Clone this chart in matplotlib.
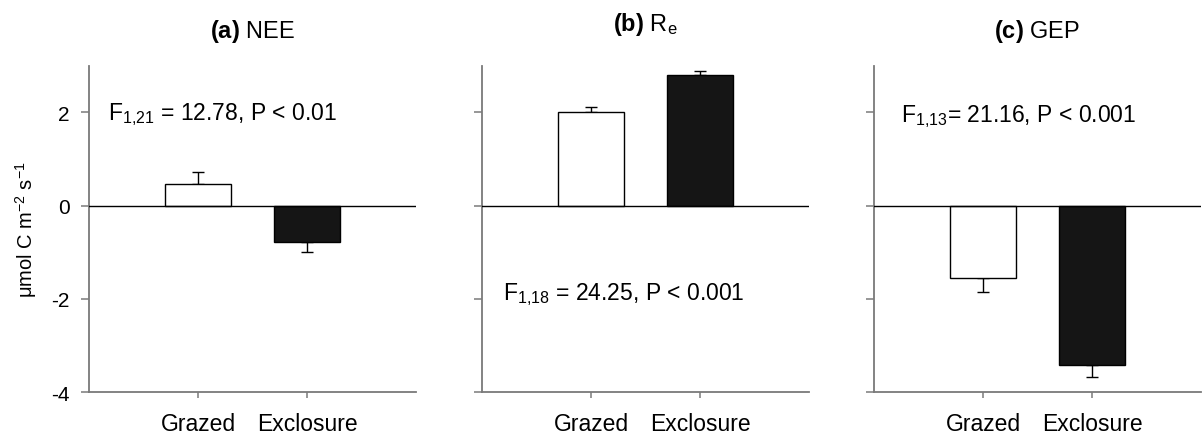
import matplotlib
matplotlib.use("Agg")
import matplotlib.pyplot as plt
import numpy as np

plt.rcParams['font.family'] = ['Liberation Sans', 'DejaVu Sans']
plt.rcParams['mathtext.fontset'] = 'custom'
plt.rcParams['mathtext.rm'] = 'Liberation Sans'
plt.rcParams['mathtext.it'] = 'Liberation Sans:italic'
plt.rcParams['mathtext.bf'] = 'Liberation Sans:bold'

categories = ["Grazed", "Exclosure"]
titles = [r"$\mathbf{(a)}$ NEE", r"$\mathbf{(b)}$ R$_{\mathrm{e}}$", r"$\mathbf{(c)}$ GEP"]
nee_mean = [0.47, -0.78]
nee_se = [0.25, 0.22]
re_mean = [2.00, 2.79]
re_se = [0.12, 0.10]
gep_mean = [-1.555, -3.41]
gep_se = [0.30, 0.26]
stats = [r"F$_{1{,}21}$ = 12.78, P < 0.01",
         r"F$_{1{,}18}$ = 24.25, P < 0.001",
         r"F$_{1{,}13}$= 21.16, P < 0.001"]
stat_pos = [(0.17, 1.85), (0.19, -2.0), (0.25, 1.81)]
yticks = [-4, -2, 0, 2]

means = [nee_mean, re_mean, gep_mean]
ses = [nee_se, re_se, gep_se]

W, H = 1202, 435
fig = plt.figure(figsize=(W / 100, H / 100), dpi=100)
lefts = [89, 482, 874]
aw = 327
top, bottom = 66.7, 393.3

spine_col = '#7a7a7a'
x = np.array([1, 2])
for i in range(3):
    ax = fig.add_axes([lefts[i] / W, 1 - bottom / H, aw / W, (bottom - top) / H])
    m = np.array(means[i])
    s = np.array(ses[i])
    lower = np.where(m < 0, s, 0)
    upper = np.where(m > 0, s, 0)
    ax.bar(x, m, width=0.6, color=['white', '#151515'], edgecolor='black',
           linewidth=1.0, zorder=3)
    ax.errorbar(x, m, yerr=[lower, upper], fmt='none', ecolor='black',
                elinewidth=1.0, capsize=4.3, capthick=1.0, zorder=2)
    ax.axhline(0, color='black', linewidth=1.0, zorder=4)
    ax.set_xlim(0, 3)
    ax.set_ylim(-4, 3)
    ax.set_xticks(x)
    ax.set_xticklabels(categories, fontsize=16.5)
    ax.set_yticks(yticks)
    if i == 0:
        ax.set_yticklabels([str(t) for t in yticks], fontsize=15)
        ax.set_ylabel("μmol C m$^{-2}$ s$^{-1}$", fontsize=14.5, labelpad=9)
    else:
        ax.set_yticklabels([])
    for sp in ['top', 'right']:
        ax.spines[sp].set_visible(False)
    for sp in ['left', 'bottom']:
        ax.spines[sp].set_color(spine_col)
        ax.spines[sp].set_linewidth(1.3)
    ax.tick_params(axis='y', direction='out', length=6, width=1.1, color=spine_col, pad=8)
    ax.tick_params(axis='x', direction='out', length=4, width=1.1, color=spine_col, pad=10)
    ax.text(stat_pos[i][0], stat_pos[i][1], stats[i], fontsize=16.5,
            ha='left', va='baseline', transform=ax.transData)
    pad = 21 if i != 1 else 25.5
    ax.set_title(titles[i], fontsize=17, pad=pad)

fig.savefig("out.png", dpi=100)
